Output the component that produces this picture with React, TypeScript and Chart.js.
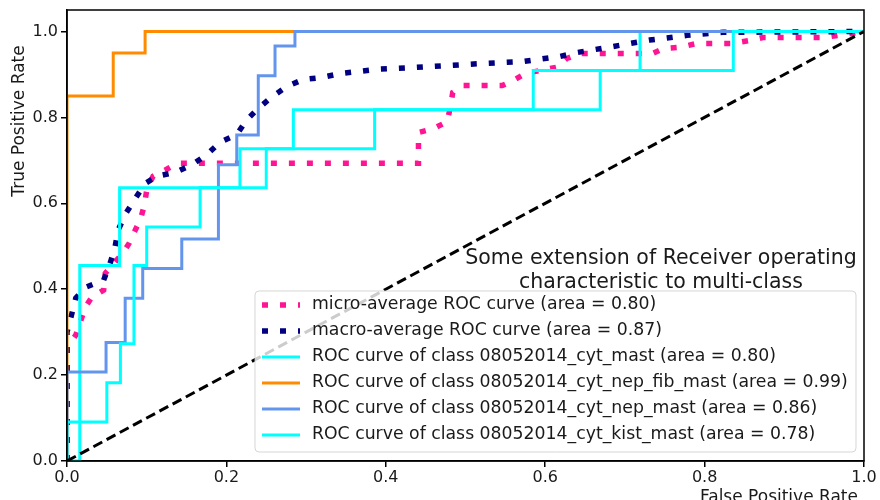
import React, { useEffect, useRef } from 'react';
import { Chart, registerables } from 'chart.js';

Chart.register(...registerables);

// ---- data ----
const microFpr = [0, 0, 0, 0.011, 0.023, 0.031, 0.046, 0.048, 0.07, 0.078, 0.085, 0.092, 0.097, 0.1, 0.108, 0.123, 0.138, 0.441, 0.441, 0.46, 0.477, 0.481, 0.484, 0.497, 0.546, 0.56, 0.575, 0.615, 0.627, 0.644, 0.735, 0.748, 0.769, 0.79, 0.834, 0.857, 0.873, 0.95, 1];
const microTpr = [0, 0.2, 0.265, 0.293, 0.358, 0.381, 0.398, 0.437, 0.484, 0.507, 0.535, 0.562, 0.595, 0.63, 0.663, 0.677, 0.693, 0.693, 0.765, 0.774, 0.79, 0.824, 0.858, 0.874, 0.874, 0.886, 0.902, 0.917, 0.937, 0.949, 0.949, 0.96, 0.963, 0.972, 0.972, 0.979, 0.986, 0.986, 1];

const macroFpr = [0, 0, 0.005, 0.011, 0.024, 0.046, 0.054, 0.06, 0.064, 0.074, 0.085, 0.098, 0.113, 0.136, 0.157, 0.176, 0.192, 0.213, 0.225, 0.24, 0.258, 0.276, 0.296, 0.32, 0.343, 0.389, 0.434, 0.481, 0.527, 0.572, 0.619, 0.64, 0.685, 0.731, 0.778, 0.823, 1];
const macroTpr = [0, 0.3, 0.335, 0.379, 0.405, 0.421, 0.46, 0.495, 0.537, 0.577, 0.609, 0.646, 0.663, 0.672, 0.69, 0.714, 0.742, 0.76, 0.793, 0.821, 0.849, 0.872, 0.888, 0.893, 0.902, 0.912, 0.916, 0.921, 0.926, 0.93, 0.942, 0.951, 0.965, 0.98, 0.991, 0.998, 1];

const cytMastFpr = [0, 0.016, 0.016, 0.066, 0.066, 0.217, 0.217, 0.284, 0.284, 0.585, 0.585, 0.719, 0.719, 1];
const cytMastTpr = [0, 0, 0.455, 0.455, 0.636, 0.636, 0.727, 0.727, 0.818, 0.818, 0.909, 0.909, 1, 1];

const nepFibFpr = [0, 0, 0.058, 0.058, 0.098, 0.098, 1];
const nepFibTpr = [0, 0.85, 0.85, 0.95, 0.95, 1, 1];

const nepMastFpr = [0, 0, 0.049, 0.049, 0.073, 0.073, 0.095, 0.095, 0.144, 0.144, 0.19, 0.19, 0.213, 0.213, 0.24, 0.24, 0.261, 0.261, 0.286, 0.286, 1];
const nepMastTpr = [0, 0.207, 0.207, 0.276, 0.276, 0.379, 0.379, 0.448, 0.448, 0.517, 0.517, 0.69, 0.69, 0.759, 0.759, 0.897, 0.897, 0.966, 0.966, 1, 1];

const kistMastFpr = [0, 0, 0.05, 0.05, 0.067, 0.067, 0.084, 0.084, 0.1, 0.1, 0.167, 0.167, 0.25, 0.25, 0.386, 0.386, 0.669, 0.669, 0.836, 0.836, 1];
const kistMastTpr = [0, 0.091, 0.091, 0.182, 0.182, 0.273, 0.273, 0.455, 0.455, 0.545, 0.545, 0.636, 0.636, 0.727, 0.727, 0.818, 0.818, 0.909, 0.909, 1, 1];

const diagFpr = [0, 1];
const diagTpr = [0, 1];

const seriesLabels = [
  'micro-average ROC curve (area = 0.80)',
  'macro-average ROC curve (area = 0.87)',
  'ROC curve of class 08052014_cyt_mast (area = 0.80)',
  'ROC curve of class 08052014_cyt_nep_fib_mast (area = 0.99)',
  'ROC curve of class 08052014_cyt_nep_mast (area = 0.86)',
  'ROC curve of class 08052014_cyt_kist_mast (area = 0.78)',
];
const titleLines = ['Some extension of Receiver operating', 'characteristic to multi-class'];
const xTicks = [0, 0.2, 0.4, 0.6, 0.8, 1.0];
const yTicks = [0, 0.2, 0.4, 0.6, 0.8, 1.0];
const xAxisLabel = 'False Positive Rate';
const yAxisLabel = 'True Positive Rate';

const FONT = '"DejaVu Sans", sans-serif';
const TEXT = '#1a1a1a';

const zip = (xs: number[], ys: number[]) => xs.map((x, i) => ({ x, y: ys[i] }));

const styles = [
  { color: '#FF1493', width: 5.5, dash: [6, 12] },
  { color: '#000080', width: 5.5, dash: [6, 12] },
  { color: '#00FFFF', width: 3, dash: [] as number[] },
  { color: '#FF8C00', width: 3, dash: [] as number[] },
  { color: '#6495ED', width: 3, dash: [] as number[] },
  { color: '#00FFFF', width: 3, dash: [] as number[] },
];

const overlayPlugin = {
  id: 'overlay',
  afterDatasetsDraw(chart: any) {
    const { ctx, chartArea: a } = chart;
    ctx.save();
    // spines
    ctx.strokeStyle = '#000';
    ctx.lineWidth = 1.5;
    ctx.strokeRect(a.left, a.top, a.right - a.left, a.bottom - a.top);

    // title (inside axes)
    ctx.fillStyle = TEXT;
    ctx.font = `20.5px ${FONT}`;
    ctx.textAlign = 'center';
    ctx.textBaseline = 'middle';
    const tcx = 661;
    ctx.fillText(titleLines[0], tcx, 259);
    ctx.fillText(titleLines[1], tcx, 283);

    // legend box
    const bx = 255, by = 291, bw = 601, bh = 161, r = 4;
    ctx.beginPath();
    ctx.moveTo(bx + r, by);
    ctx.lineTo(bx + bw - r, by);
    ctx.quadraticCurveTo(bx + bw, by, bx + bw, by + r);
    ctx.lineTo(bx + bw, by + bh - r);
    ctx.quadraticCurveTo(bx + bw, by + bh, bx + bw - r, by + bh);
    ctx.lineTo(bx + r, by + bh);
    ctx.quadraticCurveTo(bx, by + bh, bx, by + bh - r);
    ctx.lineTo(bx, by + r);
    ctx.quadraticCurveTo(bx, by, bx + r, by);
    ctx.closePath();
    ctx.fillStyle = 'rgba(255,255,255,0.8)';
    ctx.fill();
    ctx.strokeStyle = 'rgba(204,204,204,0.8)';
    ctx.lineWidth = 1;
    ctx.stroke();

    ctx.font = `17.3px ${FONT}`;
    ctx.textAlign = 'left';
    ctx.textBaseline = 'middle';
    seriesLabels.forEach((lab, i) => {
      const y = 305 + i * 26;
      const s = styles[i];
      ctx.beginPath();
      ctx.setLineDash(s.dash);
      ctx.lineCap = 'butt';
      ctx.strokeStyle = s.color;
      ctx.lineWidth = s.width;
      ctx.moveTo(262, y);
      ctx.lineTo(300, y);
      ctx.stroke();
      ctx.setLineDash([]);
      ctx.fillStyle = TEXT;
      ctx.fillText(lab, 312, y);
    });

    // axis labels
    ctx.fillStyle = TEXT;
    ctx.font = `17px ${FONT}`;
    ctx.textAlign = 'center';
    ctx.textBaseline = 'alphabetic';
    ctx.fillText(xAxisLabel, 779, 502);
    ctx.save();
    ctx.translate(20, 121);
    ctx.rotate(-Math.PI / 2);
    ctx.textBaseline = 'middle';
    ctx.fillText(yAxisLabel, 0, 0);
    ctx.restore();
    ctx.restore();
  },
};

export default function App() {
  const ref = useRef<HTMLCanvasElement | null>(null);
  useEffect(() => {
    if (!ref.current) return;
    const mk = (label: string, xs: number[], ys: number[], i: number, order: number) => ({
      label,
      data: zip(xs, ys),
      showLine: true,
      borderColor: styles[i].color,
      backgroundColor: styles[i].color,
      borderWidth: styles[i].width,
      borderDash: styles[i].dash,
      borderCapStyle: 'butt',
      pointRadius: 0,
      tension: 0,
      fill: false,
      order,
    });
    const chart = new Chart(ref.current, {
      type: 'scatter',
      data: {
        datasets: [
          {
            label: 'chance',
            data: zip(diagFpr, diagTpr),
            showLine: true,
            borderColor: '#000',
            borderWidth: 3,
            borderDash: [10, 5],
            pointRadius: 0,
            order: 0,
          },
          mk(seriesLabels[5], kistMastFpr, kistMastTpr, 5, 1),
          mk(seriesLabels[4], nepMastFpr, nepMastTpr, 4, 2),
          mk(seriesLabels[3], nepFibFpr, nepFibTpr, 3, 3),
          mk(seriesLabels[2], cytMastFpr, cytMastTpr, 2, 4),
          mk(seriesLabels[1], macroFpr, macroTpr, 1, 5),
          mk(seriesLabels[0], microFpr, microTpr, 0, 6),
        ] as any,
      },
      options: {
        animation: false,
        responsive: false,
        maintainAspectRatio: false,
        layout: { padding: { left: 0, top: 10, right: 16, bottom: 0 } },
        plugins: { legend: { display: false }, tooltip: { enabled: false }, title: { display: false } },
        scales: {
          x: {
            type: 'linear',
            min: 0,
            max: 1,
            afterBuildTicks: (s: any) => { s.ticks = xTicks.map((v) => ({ value: v })); },
            afterFit: (s: any) => { s.height = 39; s.paddingLeft = 0; s.paddingRight = 0; },
            ticks: {
              callback: (v: any) => Number(v).toFixed(1),
              font: { family: FONT, size: 16 },
              color: TEXT,
              padding: 1,
              maxRotation: 0,
              autoSkip: false,
            },
            grid: { drawOnChartArea: false, drawTicks: true, tickLength: 6, color: '#000', lineWidth: 1.5 },
            border: { display: true, color: '#000', width: 1.5 },
          },
          y: {
            type: 'linear',
            min: 0,
            max: 1.05,
            afterBuildTicks: (s: any) => { s.ticks = yTicks.map((v) => ({ value: v })); },
            afterFit: (s: any) => { s.width = 67; s.paddingTop = 0; s.paddingBottom = 0; },
            ticks: {
              callback: (v: any) => Number(v).toFixed(1),
              font: { family: FONT, size: 16 },
              color: TEXT,
              padding: 3,
              autoSkip: false,
            },
            grid: { drawOnChartArea: false, drawTicks: true, tickLength: 6, color: '#000', lineWidth: 1.5 },
            border: { display: true, color: '#000', width: 1.5 },
          },
        },
      },
      plugins: [overlayPlugin],
    } as any);
    return () => chart.destroy();
  }, []);
  return (
    <div style={{ position: 'absolute', left: 0, top: 0, width: 880, height: 500, background: '#fff' }}>
      <canvas ref={ref} width={880} height={500} style={{ width: 880, height: 500 }} />
    </div>
  );
}
